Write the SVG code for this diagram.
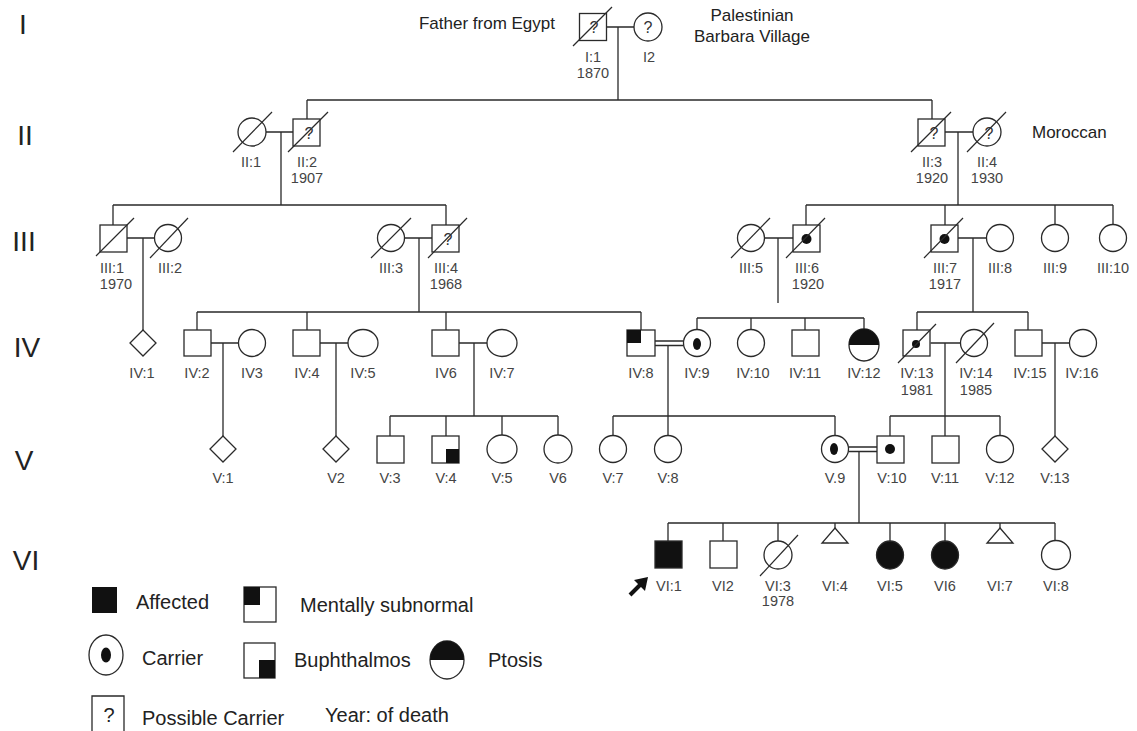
<svg xmlns="http://www.w3.org/2000/svg" width="1137" height="731" viewBox="0 0 1137 731">
<style>
.s{fill:#fff;stroke:#2a2a2a;stroke-width:1.3}
.f{fill:#111;stroke:#2a2a2a;stroke-width:1.3}
.k{fill:#111;stroke:none}
.ln{fill:none;stroke:#2a2a2a;stroke-width:1.3}
.sl{fill:none;stroke:#2a2a2a;stroke-width:1.2}
text{font-family:"Liberation Sans",Arial,sans-serif}
.l{font-size:14.5px;fill:#444;text-anchor:middle}
.q{font-size:16px;fill:#333;text-anchor:middle}
.a{font-size:17px;fill:#222}
.g{font-size:28px;fill:#222;text-anchor:middle}
.lg{font-size:20px;fill:#222}
</style>
<rect width="1137" height="731" fill="#fff"/>
<g id="generations">
<text class="g" x="23" y="34">I</text>
<text class="g" x="25" y="145">II</text>
<text class="g" x="24" y="251">III</text>
<text class="g" x="27" y="357">IV</text>
<text class="g" x="24" y="470">V</text>
<text class="g" x="26" y="570">VI</text>
</g>
<g id="annotations">
<text class="a" x="555" y="29" text-anchor="end">Father from Egypt</text>
<text class="a" x="752" y="21" text-anchor="middle">Palestinian</text>
<text class="a" x="752" y="42" text-anchor="middle">Barbara Village</text>
<text class="a" x="1032" y="138">Moroccan</text>
</g>
<g id="connectors">
<path class="ln" d="M606.5 27H634 M618 27V100 M307 100H932 M307 100V119 M932 100V119"/>
<path class="ln" d="M266 132H293 M281 132V205 M113 205H446 M113 205V225 M446 205V225"/>
<path class="ln" d="M945 132H973 M958 132V205 M806 205H1113 M806 205V225 M945 205V225 M1055 205V224.5 M1113 205V224.5"/>
<path class="ln" d="M127 238H154.5 M143 238V330"/>
<path class="ln" d="M404.5 238H432 M419 238V312 M197 312H641 M197 312V330 M307 312V330 M446 312V330 M641 312V330"/>
<path class="ln" d="M764.5 238H793 M778 238V303 M697 318H864 M697 318V329.5 M751 318V329.5 M805 318V330 M864 318V329"/>
<path class="ln" d="M958 238H986.5 M973 238V312 M917 312H1028 M917 312V330 M1028 312V330"/>
<path class="ln" d="M211 343H238.5 M223 343V436 M320 343H348 M336 343V436 M459 343H487 M474 343V416 M390 416H558 M390 416V436 M446 416V436 M502 416V435 M558 416V435"/>
<path class="ln" d="M655 341H683.5 M655 345.5H683.5 M668 345.5V435.5 M613 416H835 M613 416V435.5 M835 416V435.5"/>
<path class="ln" d="M930.5 343H960.5 M945 343V416 M890 416H1000 M890 416V436 M945 416V436 M1000 416V435.5"/>
<path class="ln" d="M1042 343H1069.5 M1055 343V436"/>
<path class="ln" d="M848.5 447H877 M848.5 451.5H877 M859 451.5V523 M668 523H1055 M668 523V541 M723 523V541 M778 523V541 M835 523V528 M890 523V541 M945 523V541 M1000 523V528 M1055 523V540.5"/>
</g>
<g id="I1"><rect class="s" x="579.5" y="13.5" width="27" height="27"/><line class="sl" x1="573" y1="46" x2="612" y2="7"/><text class="q" x="594" y="33">?</text><text class="l" x="593" y="62">I:1</text><text class="l" x="593" y="78">1870</text></g>
<g id="I2"><circle class="s" cx="648" cy="27" r="14"/><text class="q" x="648" y="33">?</text><text class="l" x="649" y="62">I2</text></g>
<g id="II1"><circle class="s" cx="252" cy="132" r="14"/><line class="sl" x1="233" y1="152" x2="272" y2="112"/><text class="l" x="251" y="167">II:1</text></g>
<g id="II2"><rect class="s" x="293" y="119" width="27" height="27"/><line class="sl" x1="288" y1="152" x2="328" y2="112"/><text class="q" x="309" y="139">?</text><text class="l" x="307" y="167">II:2</text><text class="l" x="307" y="183">1907</text></g>
<g id="II3"><rect class="s" x="918" y="119" width="27" height="27"/><line class="sl" x1="911" y1="152" x2="951" y2="112"/><text class="q" x="934" y="139">?</text><text class="l" x="932" y="167">II:3</text><text class="l" x="932" y="183">1920</text></g>
<g id="II4"><circle class="s" cx="987" cy="132" r="14"/><line class="sl" x1="967" y1="152" x2="1006" y2="112"/><text class="q" x="989" y="139">?</text><text class="l" x="987" y="167">II:4</text><text class="l" x="987" y="183">1930</text></g>
<g id="III1"><rect class="s" x="100" y="225" width="27" height="27"/><line class="sl" x1="96" y1="256" x2="134" y2="218"/><text class="l" x="112" y="273">III:1</text><text class="l" x="116" y="289">1970</text></g>
<g id="III2"><circle class="s" cx="168" cy="238" r="13.5"/><line class="sl" x1="150" y1="258" x2="188" y2="218"/><text class="l" x="170" y="273">III:2</text></g>
<g id="III3"><circle class="s" cx="391" cy="238" r="13.5"/><line class="sl" x1="371" y1="258" x2="411" y2="218"/><text class="l" x="391" y="273">III:3</text></g>
<g id="III4"><rect class="s" x="432" y="225" width="27" height="27"/><line class="sl" x1="428" y1="258" x2="467" y2="218"/><text class="q" x="448" y="245">?</text><text class="l" x="446" y="273">III:4</text><text class="l" x="446" y="289">1968</text></g>
<g id="III5"><circle class="s" cx="751" cy="238" r="13.5"/><line class="sl" x1="731" y1="258" x2="770" y2="218"/><text class="l" x="751" y="273">III:5</text></g>
<g id="III6"><rect class="s" x="793" y="225" width="27" height="27"/><circle class="k" cx="806.5" cy="239" r="5"/><line class="sl" x1="786" y1="258" x2="825" y2="218"/><text class="l" x="807" y="273">III:6</text><text class="l" x="808" y="289">1920</text></g>
<g id="III7"><rect class="s" x="931" y="225" width="27" height="27"/><circle class="k" cx="944.5" cy="239" r="5"/><line class="sl" x1="924" y1="258" x2="963" y2="218"/><text class="l" x="945" y="273">III:7</text><text class="l" x="945" y="289">1917</text></g>
<g id="III8"><circle class="s" cx="1000" cy="238" r="13.5"/><text class="l" x="1000" y="273">III:8</text></g>
<g id="III9"><circle class="s" cx="1055" cy="238" r="13.5"/><text class="l" x="1055" y="273">III:9</text></g>
<g id="III10"><circle class="s" cx="1113" cy="238" r="13.5"/><text class="l" x="1113" y="273">III:10</text></g>
<g id="IV1"><path class="s" d="M143 330L156 343L143 356L130 343Z"/><text class="l" x="142" y="378">IV:1</text></g>
<g id="IV2"><rect class="s" x="184" y="330" width="27" height="26"/><text class="l" x="197" y="378">IV:2</text></g>
<g id="IV3"><circle class="s" cx="252" cy="343" r="13.5"/><text class="l" x="252" y="378">IV3</text></g>
<g id="IV4"><rect class="s" x="293" y="330" width="27" height="26"/><text class="l" x="307" y="378">IV:4</text></g>
<g id="IV5"><ellipse class="s" cx="363" cy="343" rx="15" ry="13.5"/><text class="l" x="363" y="378">IV:5</text></g>
<g id="IV6"><rect class="s" x="432" y="330" width="27" height="26"/><text class="l" x="446" y="378">IV6</text></g>
<g id="IV7"><ellipse class="s" cx="502" cy="343" rx="15" ry="13.5"/><text class="l" x="502" y="378">IV:7</text></g>
<g id="IV8"><rect class="s" x="627" y="330" width="28" height="26"/><rect class="k" x="627" y="330" width="14" height="13"/><text class="l" x="641" y="378">IV:8</text></g>
<g id="IV9"><circle class="s" cx="697" cy="343" r="13.5"/><ellipse class="k" cx="697" cy="344" rx="4" ry="6"/><text class="l" x="697" y="378">IV:9</text></g>
<g id="IV10"><circle class="s" cx="751" cy="343" r="13.5"/><text class="l" x="753" y="378">IV:10</text></g>
<g id="IV11"><rect class="s" x="792" y="330" width="27" height="26"/><text class="l" x="805" y="378">IV:11</text></g>
<g id="IV12"><ellipse class="s" cx="864" cy="345" rx="15" ry="16"/><path class="k" d="M849 345A15 16 0 0 1 879 345Z"/><text class="l" x="864" y="378">IV:12</text></g>
<g id="IV13"><rect class="s" x="903" y="330" width="27" height="26"/><circle class="k" cx="916" cy="344" r="4"/><line class="sl" x1="898" y1="363" x2="936" y2="324"/><text class="l" x="917" y="378">IV:13</text><text class="l" x="917" y="395">1981</text></g>
<g id="IV14"><circle class="s" cx="974" cy="343" r="13.5"/><line class="sl" x1="956" y1="363" x2="994" y2="323"/><text class="l" x="976" y="378">IV:14</text><text class="l" x="976" y="395">1985</text></g>
<g id="IV15"><rect class="s" x="1015" y="330" width="27" height="26"/><text class="l" x="1030" y="378">IV:15</text></g>
<g id="IV16"><circle class="s" cx="1083" cy="343" r="13.5"/><text class="l" x="1082" y="378">IV:16</text></g>
<g id="V1"><path class="s" d="M223 436L236 449L223 462L210 449Z"/><text class="l" x="223" y="483">V:1</text></g>
<g id="V2"><path class="s" d="M336 436L349 449L336 462L323 449Z"/><text class="l" x="336" y="483">V2</text></g>
<g id="V3"><rect class="s" x="377" y="436" width="27" height="27"/><text class="l" x="390" y="483">V:3</text></g>
<g id="V4"><rect class="s" x="432" y="436" width="27" height="27"/><rect class="k" x="446" y="449" width="13" height="14"/><text class="l" x="446" y="483">V:4</text></g>
<g id="V5"><ellipse class="s" cx="502" cy="449" rx="15" ry="14"/><text class="l" x="502" y="483">V:5</text></g>
<g id="V6"><circle class="s" cx="558" cy="449" r="14"/><text class="l" x="558" y="483">V6</text></g>
<g id="V7"><circle class="s" cx="613" cy="449" r="13.5"/><text class="l" x="613" y="483">V:7</text></g>
<g id="V8"><circle class="s" cx="668" cy="449" r="13.5"/><text class="l" x="668" y="483">V:8</text></g>
<g id="V9"><circle class="s" cx="835" cy="449" r="13.5"/><ellipse class="k" cx="834" cy="449" rx="4" ry="6"/><text class="l" x="835" y="483">V.9</text></g>
<g id="V10"><rect class="s" x="877" y="436" width="27" height="27"/><circle class="k" cx="890" cy="449" r="5"/><text class="l" x="892" y="483">V:10</text></g>
<g id="V11"><rect class="s" x="932" y="436" width="27" height="27"/><text class="l" x="945" y="483">V:11</text></g>
<g id="V12"><circle class="s" cx="1000" cy="449" r="13.5"/><text class="l" x="1000" y="483">V:12</text></g>
<g id="V13"><path class="s" d="M1055 436L1068 449L1055 462L1042 449Z"/><text class="l" x="1055" y="483">V:13</text></g>
<g id="VI1"><rect class="f" x="655" y="541" width="27" height="27"/><text class="l" x="669" y="591">VI:1</text><path class="ln" d="M630 595L641 584" style="stroke:#111;stroke-width:4"/><path class="k" d="M648 577L634 580L645 591Z"/></g>
<g id="VI2"><rect class="s" x="710" y="541" width="27" height="27"/><text class="l" x="723" y="591">VI2</text></g>
<g id="VI3"><circle class="s" cx="778" cy="555" r="14"/><line class="sl" x1="760" y1="576" x2="798" y2="535"/><text class="l" x="778" y="591">VI:3</text><text class="l" x="778" y="606">1978</text></g>
<g id="VI4"><path class="s" d="M835 528L848 543H822Z"/><text class="l" x="835" y="591">VI:4</text></g>
<g id="VI5"><ellipse class="f" cx="890" cy="555" rx="13.5" ry="14"/><text class="l" x="890" y="591">VI:5</text></g>
<g id="VI6"><ellipse class="f" cx="945" cy="555" rx="13.5" ry="14"/><text class="l" x="945" y="591">VI6</text></g>
<g id="VI7"><path class="s" d="M1000 528L1013 543H987Z"/><text class="l" x="1000" y="591">VI:7</text></g>
<g id="VI8"><circle class="s" cx="1056" cy="555" r="14.5"/><text class="l" x="1056" y="591">VI:8</text></g>
<g id="legend">
<rect class="k" x="92" y="587" width="25" height="26"/>
<text class="lg" x="136" y="609">Affected</text>
<rect class="s" x="244" y="587" width="32" height="35"/><rect class="k" x="244" y="587" width="16" height="18"/>
<text class="lg" x="300" y="612">Mentally subnormal</text>
<ellipse class="s" cx="106" cy="655" rx="17" ry="20"/><ellipse class="k" cx="106" cy="655" rx="5" ry="7.5"/>
<text class="lg" x="142" y="665">Carrier</text>
<rect class="s" x="244" y="643" width="31" height="35"/><rect class="k" x="259" y="660" width="16" height="18"/>
<text class="lg" x="294" y="667">Buphthalmos</text>
<ellipse class="s" cx="447" cy="660" rx="17" ry="19"/><path class="k" d="M430 660A17 19 0 0 1 464 660Z"/>
<text class="lg" x="488" y="667">Ptosis</text>
<path class="s" d="M92 732V696H124V732"/>
<text class="lg" x="109" y="722" text-anchor="middle">?</text>
<text class="lg" x="142" y="725">Possible Carrier</text>
<text class="lg" x="325" y="722">Year: of death</text>
</g>
</svg>
